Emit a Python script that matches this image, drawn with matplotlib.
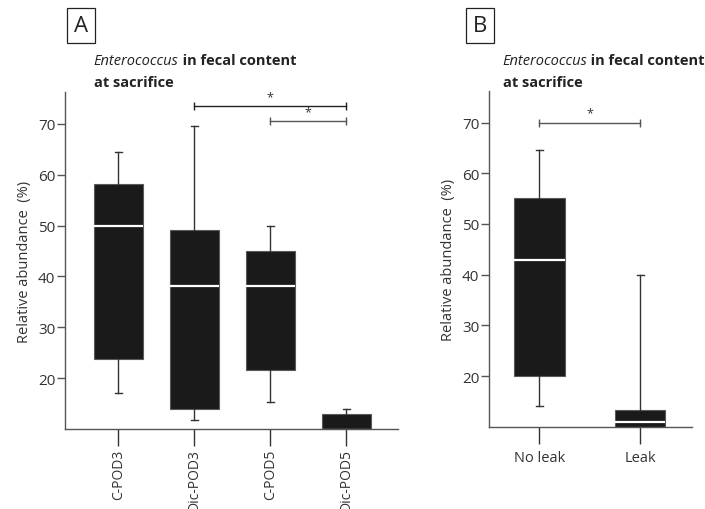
import matplotlib

matplotlib.use("Agg")
import matplotlib.pyplot as plt

plt.rcParams["font.family"] = ["Open Sans", "DejaVu Sans"]

# panel A: Enterococcus by group and day
groups_a = ["C-POD3", "Dic-POD3", "C-POD5", "Dic-POD5"]
whislo_a = [17.1, 11.7, 15.3, 9.0]
q1_a = [23.8, 14.0, 21.6, 9.5]
med_a = [50.0, 38.2, 38.2, 9.8]
q3_a = [58.2, 49.1, 45.0, 13.0]
whishi_a = [64.4, 69.6, 50.0, 13.9]
# significance brackets: (from index, to index, height)
sig_a = [(1, 3, 73.5), (2, 3, 70.5)]

# panel B: leak vs no leak
groups_b = ["No leak", "Leak"]
whislo_b = [14.1, 9.0]
q1_b = [20.0, 9.9]
med_b = [42.8, 10.9]
q3_b = [55.2, 13.3]
whishi_b = [64.5, 40.0]
sig_b = [(0, 1, 70.0)]

BOX = "#1a1a1a"
LINE = "#333333"
SPINE = "#555555"


def stats(labels, lo, q1, med, q3, hi):
    return [
        {"label": lab, "whislo": a, "q1": b, "med": c, "q3": d, "whishi": e, "fliers": []}
        for lab, a, b, c, d, e in zip(labels, lo, q1, med, q3, hi)
    ]


def draw_panel(ax, data, width, capw, xlim, sigs, sig_colors):
    ax.bxp(
        data,
        positions=range(len(data)),
        widths=width,
        capwidths=capw,
        patch_artist=True,
        showfliers=False,
        boxprops=dict(facecolor=BOX, edgecolor="#5a5a5a", linewidth=0.8),
        medianprops=dict(color="white", linewidth=1.6),
        whiskerprops=dict(color=LINE, linewidth=1.0),
        capprops=dict(color=LINE, linewidth=1.0),
    )
    ax.set_xlim(*xlim)
    ax.set_ylim(10, 76.3)
    ax.set_yticks([20, 30, 40, 50, 60, 70])
    for side in ("top", "right"):
        ax.spines[side].set_visible(False)
    for side in ("left", "bottom"):
        ax.spines[side].set_color(SPINE)
        ax.spines[side].set_linewidth(1.0)
    ax.tick_params(axis="y", length=6, width=1, color=SPINE, labelsize=11, labelcolor="#333333", pad=1)
    ax.tick_params(axis="x", length=12, width=1, color=LINE, labelsize=10.5, labelcolor="#333333", pad=5)
    ax.set_ylabel("Relative abundance  (%)", fontsize=10.5, color="#333333", labelpad=4)
    for (i, j, y), col in zip(sigs, sig_colors):
        ax.plot([i, j], [y, y], color=col, linewidth=1.0, marker="|", markersize=6, clip_on=False)
        ax.text((i + j) / 2, y + 0.6, "*", ha="center", va="bottom", fontsize=9, color="#333333")


def title(fig, x, y):
    t1 = fig.text(x, y, "Enterococcus", fontsize=10.5, style="italic", color="#222222", va="baseline")
    fig.text(x, y, " in fecal content", fontsize=10.5, fontweight="bold", color="#222222",
             va="baseline", transform=t1.get_transform())
    fig.canvas.draw()
    bb = t1.get_window_extent()
    fig.texts[-1].set_position((bb.x1 / fig.bbox.width, y))
    fig.text(x, y - 0.042, "at sacrifice", fontsize=10.5, fontweight="bold", color="#222222", va="baseline")


fig = plt.figure(figsize=(7.05, 5.1), dpi=100)
ax_a = fig.add_axes([0.0922, 0.1569, 0.4723, 0.6608])
ax_b = fig.add_axes([0.6936, 0.1614, 0.2875, 0.6588])

draw_panel(ax_a, stats(groups_a, whislo_a, q1_a, med_a, q3_a, whishi_a), 0.65, 0.09,
           (-0.7, 3.68), sig_a, ["#222222", "#555555"])
ax_a.tick_params(axis="x", labelrotation=90, labelsize=10, pad=2)
draw_panel(ax_b, stats(groups_b, whislo_b, q1_b, med_b, q3_b, whishi_b), 0.5, 0.07,
           (-0.5, 1.51), sig_b, ["#555555"])

for x, lab in [(0.115, "A"), (0.681, "B")]:
    fig.text(x, 0.948, lab, fontsize=16, ha="center", va="center", color="#222222",
             bbox=dict(boxstyle="square,pad=0.3", facecolor="white", edgecolor="#222222", linewidth=0.9))

title(fig, 0.133, 0.872)
title(fig, 0.713, 0.872)

fig.savefig("out.png", dpi=100, facecolor="white")
